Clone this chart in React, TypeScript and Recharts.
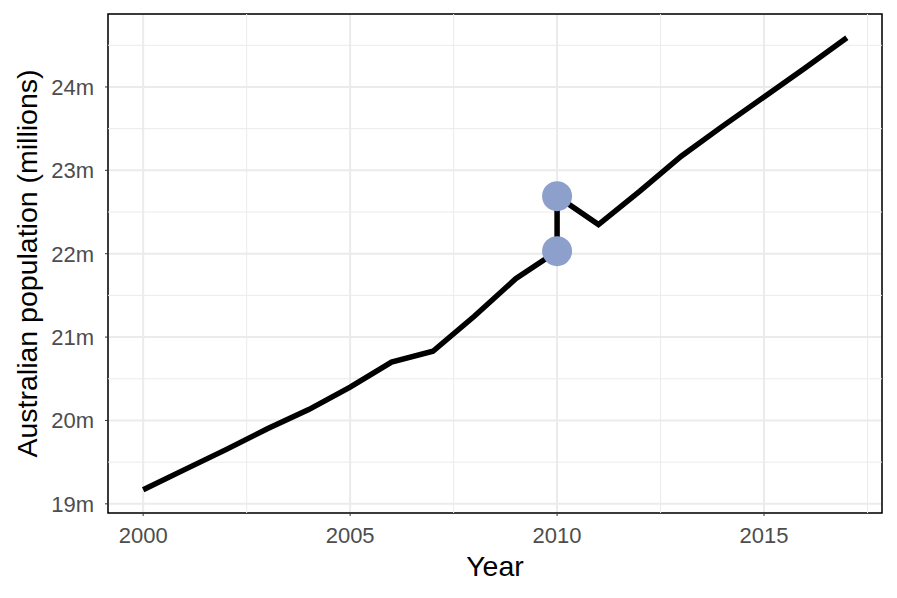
// App.tsx - Australian population line chart (ggplot theme_bw look)
import { ComposedChart, CartesianGrid, Line, ReferenceArea, ReferenceLine, XAxis, YAxis } from 'recharts';

const years = [2000, 2001, 2002, 2003, 2004, 2005, 2006, 2007, 2008, 2009, 2010, 2010, 2011, 2012, 2013, 2014, 2015, 2016, 2017];
const population = [19.17, 19.41, 19.65, 19.9, 20.13, 20.4, 20.7, 20.83, 21.25, 21.7, 22.03, 22.69, 22.35, 22.75, 23.17, 23.53, 23.88, 24.23, 24.59];

const highlightYears = [2010, 2010];
const highlightPopulation = [22.03, 22.69];

const xTicks = [2000, 2005, 2010, 2015];
const yTicks = [19, 20, 21, 22, 23, 24];
const xMinor = [2002.5, 2007.5, 2012.5, 2017.5];
const yMinor = [19.5, 20.5, 21.5, 22.5, 23.5, 24.5];

const X_DOMAIN: [number, number] = [1999.15, 2017.85];
const Y_DOMAIN: [number, number] = [18.89, 24.875];

const FONT = '"Liberation Sans", Arial, sans-serif';
const GRID = '#ebebeb';
const TICK_FONT = 22;
const TITLE_FONT = 28.5;

export default function App() {
  const data = years.map((year, i) => ({ year, pop: population[i] }));
  const highlights = highlightYears.map((year, i) => ({ year, pop: highlightPopulation[i] }));

  return (
    <div style={{ position: 'fixed', left: 0, top: 0, width: 897, height: 598, background: '#fff', fontFamily: FONT }}>
      <ComposedChart width={897} height={598} data={data} margin={{ top: 14, right: 15, bottom: 15, left: 0 }}>
        {/* minor grid */}
        {xMinor.map((v) => (
          <ReferenceLine key={`xm-${v}`} x={v} stroke={GRID} strokeWidth={1} />
        ))}
        {yMinor.map((v) => (
          <ReferenceLine key={`ym-${v}`} y={v} stroke={GRID} strokeWidth={1} />
        ))}
        {/* major grid */}
        <CartesianGrid stroke={GRID} strokeWidth={2} />
        <XAxis
          type="number"
          dataKey="year"
          domain={X_DOMAIN}
          ticks={xTicks}
          allowDataOverflow
          height={70}
          axisLine={false}
          tickSize={3}
          tickMargin={11}
          tickLine={{ stroke: '#333333' }}
          tick={{ fill: '#4d4d4d', fontSize: TICK_FONT, fontFamily: FONT }}
          label={{
            content: ({ viewBox }: any) => (
              <text
                x={viewBox.x + viewBox.width / 2}
                y={viewBox.y + 63}
                textAnchor="middle"
                fill="#000"
                fontSize={TITLE_FONT}
                fontFamily={FONT}
              >
                Year
              </text>
            ),
          }}
        />
        <YAxis
          type="number"
          domain={Y_DOMAIN}
          ticks={yTicks}
          allowDataOverflow
          width={108}
          axisLine={false}
          tickSize={3}
          tickMargin={11}
          tickLine={{ stroke: '#333333' }}
          tickFormatter={(v: number) => `${v}m`}
          tick={{ fill: '#4d4d4d', fontSize: TICK_FONT, fontFamily: FONT }}
          label={{
            content: ({ viewBox }: any) => {
              const cx = viewBox.x + 27;
              const cy = viewBox.y + viewBox.height / 2;
              return (
                <text
                  x={cx}
                  y={cy}
                  transform={`rotate(-90 ${cx} ${cy})`}
                  textAnchor="middle"
                  dominantBaseline="central"
                  fill="#000"
                  fontSize={TITLE_FONT}
                  fontFamily={FONT}
                >
                  Australian population (millions)
                </text>
              );
            },
          }}
        />
        <Line
          type="linear"
          dataKey="pop"
          stroke="#000"
          strokeWidth={5.5}
          dot={false}
          activeDot={false}
          isAnimationActive={false}
        />
        <Line
          data={highlights}
          type="linear"
          dataKey="pop"
          stroke="none"
          dot={{ r: 15, fill: '#8da0cb', stroke: 'none' }}
          activeDot={false}
          isAnimationActive={false}
        />
        {/* panel border */}
        <ReferenceArea x1={X_DOMAIN[0]} x2={X_DOMAIN[1]} y1={Y_DOMAIN[0]} y2={Y_DOMAIN[1]} fill="none" stroke="#000" strokeWidth={1.5} fillOpacity={0} />
      </ComposedChart>
    </div>
  );
}
